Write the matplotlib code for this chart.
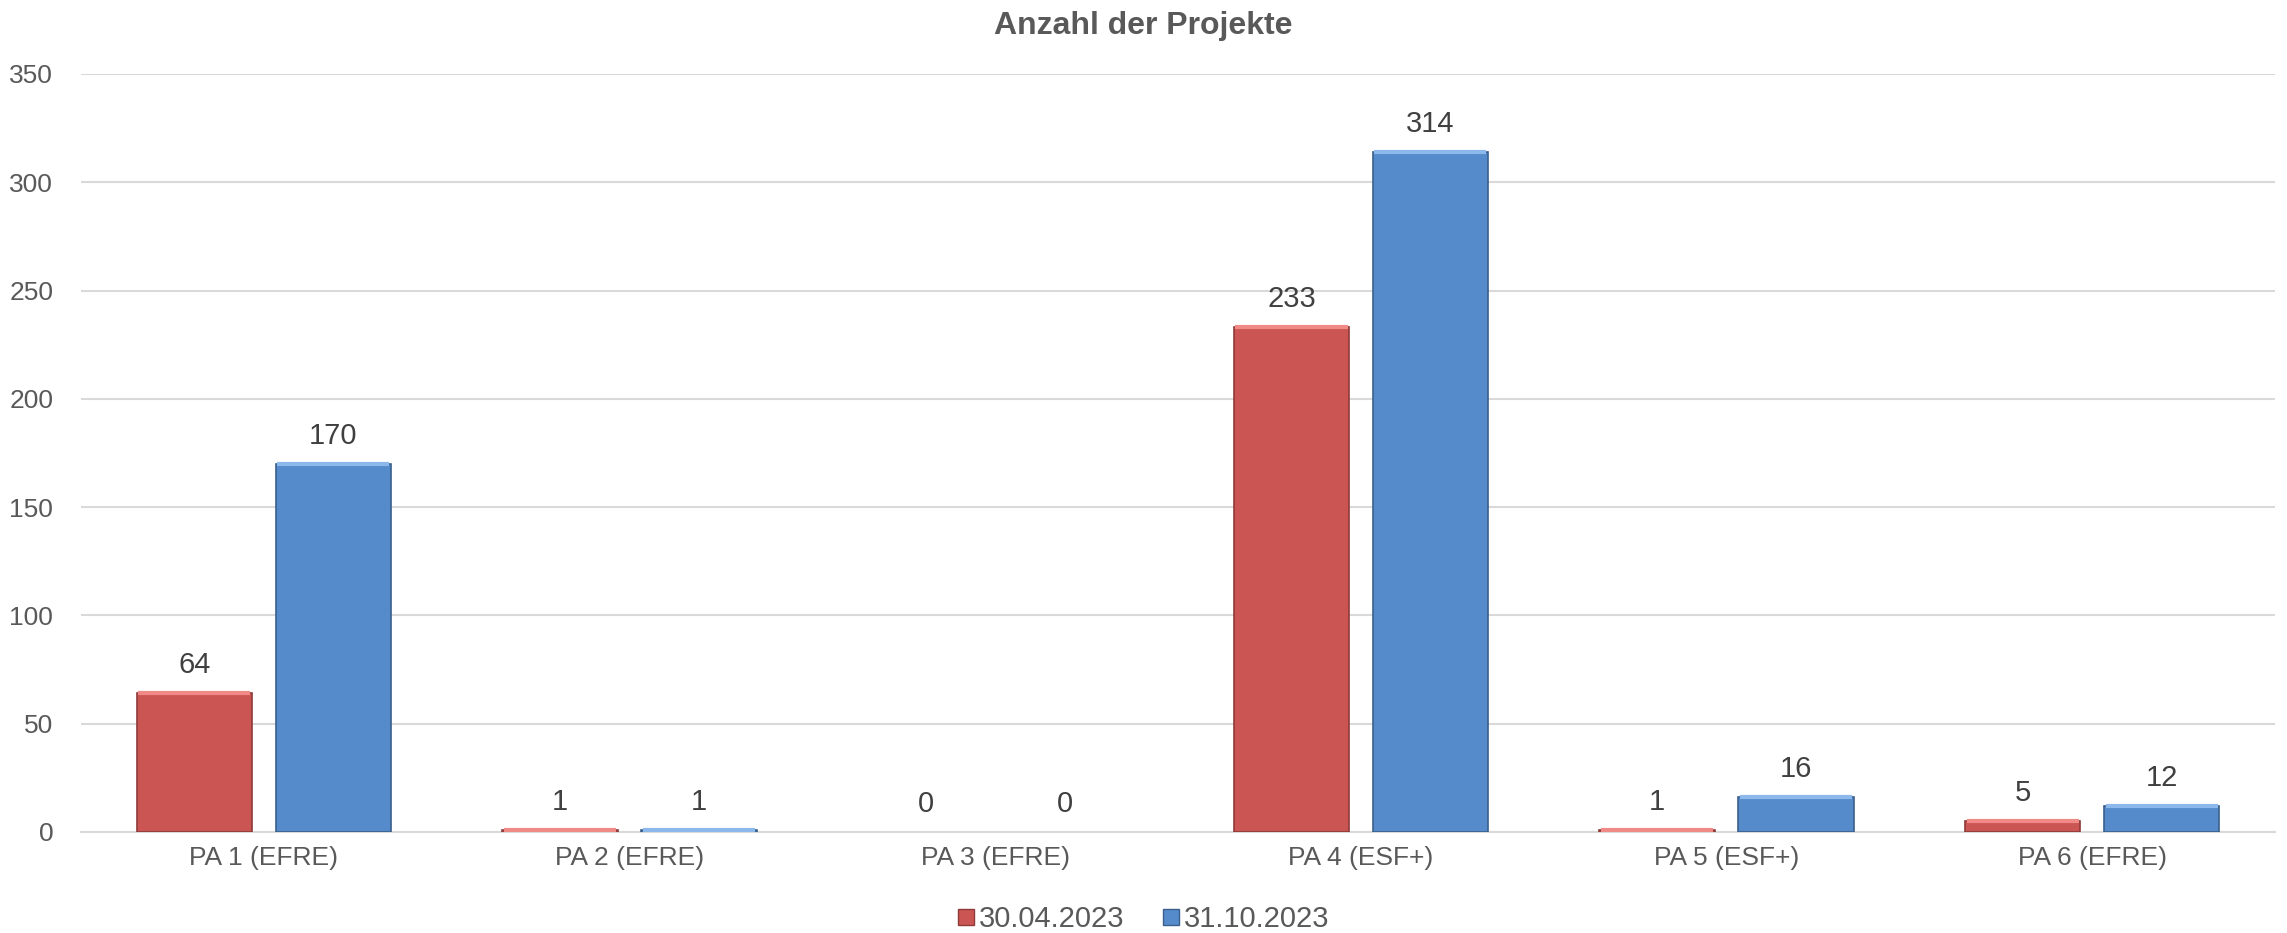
import numpy as np
import matplotlib
matplotlib.use("Agg")
from matplotlib import pyplot as plt
from matplotlib.lines import Line2D

plt.rcParams["font.family"] = ["Liberation Sans", "DejaVu Sans"]

# data
categories = ["PA 1 (EFRE)", "PA 2 (EFRE)", "PA 3 (EFRE)", "PA 4 (ESF+)", "PA 5 (ESF+)", "PA 6 (EFRE)"]
series_names = ["30.04.2023", "31.10.2023"]
values_apr = [64, 1, 0, 233, 1, 5]
values_oct = [170, 1, 0, 314, 16, 12]
y_ticks = [0, 50, 100, 150, 200, 250, 300, 350]

colors = ["#CB5552", "#558BCB"]
edges = ["#8E3A38", "#3A5F8C"]
tops = ["#F08A87", "#8DB8EC"]

fig = plt.figure(figsize=(22.87, 9.33), dpi=100)
ax = fig.add_axes([0.0354, 0.1083, 0.9594, 0.8124])

x = np.arange(len(categories))
width = 0.315
offset = 0.19

for i, vals in enumerate([values_apr, values_oct]):
    pos = x + (offset if i else -offset)
    bars = ax.bar(pos, vals, width, color=colors[i], edgecolor=edges[i],
                  linewidth=1.2, zorder=3)
    for b, v in zip(bars, vals):
        if v > 0:
            ax.plot([b.get_x() + 0.004, b.get_x() + b.get_width() - 0.004],
                    [v, v], color=tops[i], lw=3, zorder=4, solid_capstyle="butt")
        else:
            b.set_linewidth(0)
        ax.annotate(str(v), (b.get_x() + b.get_width() / 2, v),
                    xytext=(0, 10), textcoords="offset points",
                    ha="center", va="bottom", fontsize=21, color="#404040")

ax.set_xlim(-0.5, len(categories) - 0.5)
ax.set_ylim(0, 350)
ax.set_yticks(y_ticks)
ax.set_xticks(x)
ax.set_xticklabels(categories)
ax.tick_params(axis="both", length=0, labelsize=19, colors="#595959")
ax.tick_params(axis="x", pad=10)
ax.tick_params(axis="y", pad=20)
ax.yaxis.grid(True, color="#D9D9D9", lw=1.5, zorder=0)
ax.set_axisbelow(True)
for s in ["top", "right", "left"]:
    ax.spines[s].set_visible(False)
ax.spines["bottom"].set_color("#D9D9D9")
ax.spines["bottom"].set_linewidth(1.5)

fig.text(0.5, 0.972, "Anzahl der Projekte", ha="center", va="center",
         fontsize=23, fontweight="bold", color="#595959")

handles = [Line2D([], [], marker="s", ls="", markersize=12, markerfacecolor=colors[i],
                  markeredgecolor=edges[i]) for i in range(2)]
fig.legend(handles, series_names, loc="center", bbox_to_anchor=(0.5, 0.015),
           ncol=2, frameon=False, fontsize=21, handlelength=0.6, handletextpad=0.15,
           columnspacing=1.3, labelcolor="#595959", borderaxespad=0)

plt.savefig("out.png", dpi=100)
plt.close(fig)
